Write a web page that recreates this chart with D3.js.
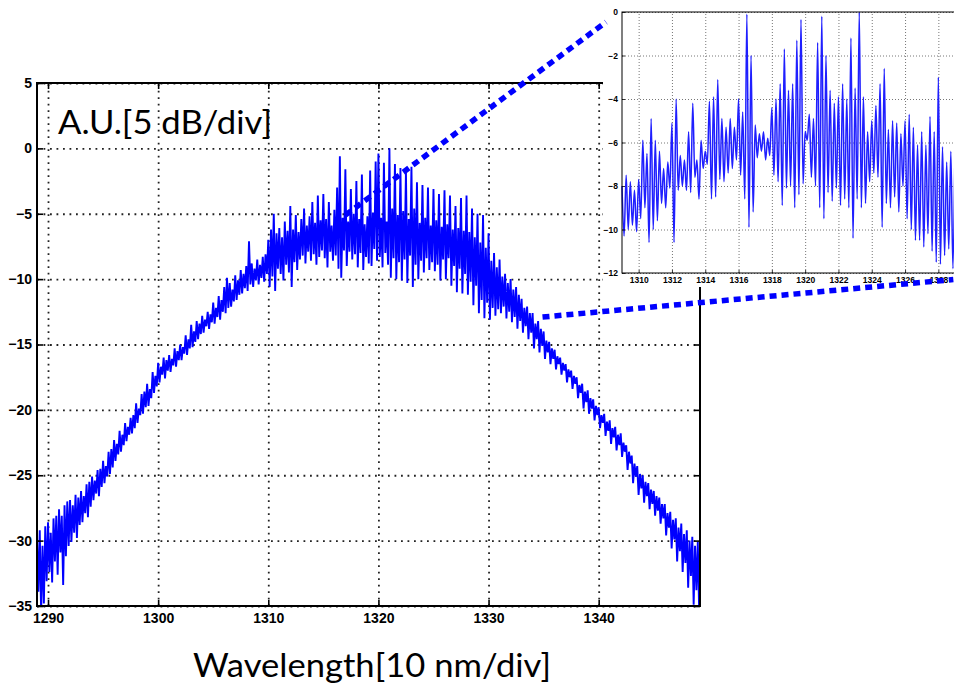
<!DOCTYPE html>
<html>
<head>
<meta charset="utf-8">
<script src="https://cdn.jsdelivr.net/npm/d3@7"></script>
<style>
  body { margin: 0; background: #fff; }
  svg { display: block; }
  .lbl text { font-family: "Liberation Sans", Arial, sans-serif; font-weight: bold; fill: #000; }
  .big { font-family: Lato, "Open Sans", sans-serif; fill: #000; }
</style>
</head>
<body>
<svg id="chart" width="954" height="685"></svg>
<script>
// Spectrum, A.U. in dB (main trace every 0.125 nm from 1289 nm, one row per nm)
const MAIN_START = 1289, MAIN_STEP = 0.125;
const MAIN_DB = [
  -29.8, -33.9, -29.2, -35.6, -30.4, -34.8, -28.9, -33.1,
  -28.6, -32.4, -29.4, -33.2, -28.3, -31.6, -28.1, -32.6,
  -27.6, -30.9, -28.1, -33.4, -27.3, -31.2, -27.0, -30.4,
  -26.9, -30.1, -27.3, -29.4, -26.5, -29.8, -26.7, -28.8,
  -26.2, -28.6, -26.6, -27.9, -25.7, -28.2, -25.5, -27.4,
  -25.1, -26.9, -25.4, -26.4, -24.6, -26.6, -24.5, -25.9,
  -23.9, -25.6, -24.3, -25.1, -23.2, -24.9, -23.0, -24.4,
  -22.3, -23.9, -22.6, -23.4, -21.6, -23.2, -21.9, -22.7,
  -21.0, -22.4, -21.3, -21.9, -20.6, -21.8, -20.4, -21.4,
  -19.5, -21.0, -19.9, -20.4, -18.8, -20.3, -18.6, -19.8,
  -18.0, -19.7, -18.4, -19.1, -17.1, -18.7, -17.4, -18.2,
  -16.4, -17.9, -16.7, -17.3, -16.0, -17.6, -16.2, -17.0,
  -15.8, -17.1, -16.1, -16.6, -15.3, -16.7, -15.5, -16.2,
  -15.0, -16.2, -15.2, -15.7, -14.3, -15.8, -14.6, -15.3,
  -13.5, -15.2, -14.0, -14.8, -13.2, -14.6, -13.4, -14.2,
  -12.8, -14.1, -13.1, -13.6, -12.5, -13.8, -12.7, -13.3,
  -11.8, -13.4, -12.2, -12.9, -11.3, -13.1, -11.6, -12.5,
  -10.6, -12.6, -9.9, -12.2, -10.3, -12.1, -10.8, -11.7,
  -9.7, -11.6, -10.1, -11.2, -9.3, -11.1, -9.6, -10.7,
  -9.0, -10.9, -7.1, -10.4, -8.8, -10.6, -9.2, -10.1,
  -8.5, -10.4, -8.9, -9.9, -8.3, -10.2, -8.1, -9.6,
  -7.0, -10.6, -6.2, -9.8, -5.0, -10.9, -6.5, -9.2,
  -6.1, -9.6, -6.8, -10.1, -5.6, -8.9, -6.3, -9.5,
  -4.4, -10.6, -6.2, -8.7, -5.1, -9.3, -6.4, -8.5,
  -5.4, -8.2, -4.6, -8.8, -5.9, -7.9, -5.2, -8.6,
  -4.1, -8.1, -5.7, -8.9, -3.6, -8.3, -5.5, -7.8,
  -3.5, -8.4, -5.4, -9.1, -4.1, -7.9, -5.9, -8.6,
  -4.7, -8.2, -3.0, -9.2, -0.6, -9.9, -5.3, -7.8,
  -1.6, -9.0, -5.6, -7.9, -3.1, -8.5, -5.0, -8.1,
  -2.5, -9.1, -5.4, -8.0, -2.0, -9.3, -5.8, -8.3,
  -5.2, -8.8, -1.7, -9.0, -4.9, -7.7, -1.0, -8.6,
  -0.4, -8.3, -5.3, -9.1, -1.1, -8.0, -5.6, -8.9,
  0.0, -9.9, -4.6, -8.4, -1.2, -10.0, -5.1, -8.7,
  -1.5, -10.1, -4.8, -8.5, -1.8, -10.3, -5.4, -8.2,
  -1.4, -10.6, -4.6, -8.9, -2.6, -10.0, -5.7, -8.6,
  -2.8, -9.5, -5.3, -8.4, -3.0, -9.3, -5.9, -8.7,
  -3.1, -9.4, -5.5, -8.9, -3.5, -10.1, -6.0, -8.5,
  -3.2, -10.0, -5.8, -8.4, -3.6, -10.5, -6.2, -9.0,
  -4.4, -11.0, -6.1, -9.2, -3.8, -11.1, -6.3, -9.6,
  -3.6, -11.2, -6.4, -10.2, -4.6, -12.0, -6.8, -10.5,
  -5.0, -12.6, -7.2, -11.6, -5.1, -13.0, -7.6, -11.8,
  -6.5, -13.1, -8.6, -12.2, -8.0, -12.8, -9.1, -12.3,
  -8.5, -12.6, -9.8, -12.1, -9.6, -13.0, -10.3, -12.5,
  -10.0, -13.3, -10.8, -12.9, -10.6, -13.8, -11.2, -13.2,
  -11.5, -14.1, -12.2, -13.6, -12.1, -14.6, -12.6, -14.1,
  -12.6, -15.3, -13.4, -14.6, -13.2, -15.6, -13.8, -15.1,
  -14.0, -16.1, -14.7, -15.6, -14.8, -16.5, -15.3, -16.1,
  -15.4, -16.9, -15.9, -16.5, -16.0, -17.3, -16.4, -17.0,
  -16.5, -17.9, -16.9, -17.5, -17.0, -18.4, -17.4, -18.0,
  -17.5, -19.1, -18.1, -18.7, -18.0, -19.9, -18.6, -19.4,
  -18.5, -20.3, -19.1, -19.9, -19.2, -20.8, -19.7, -20.4,
  -19.8, -21.4, -20.4, -21.0, -20.3, -22.0, -20.9, -21.6,
  -20.8, -22.6, -21.4, -22.1, -21.3, -23.1, -21.9, -22.7,
  -21.8, -23.6, -22.5, -23.2, -22.7, -24.6, -23.2, -24.1,
  -23.5, -25.6, -24.1, -25.1, -24.3, -26.5, -24.9, -26.0,
  -25.0, -27.1, -25.5, -26.6, -25.6, -27.6, -26.1, -27.2,
  -26.2, -28.1, -26.6, -27.7, -26.7, -28.7, -27.2, -28.3,
  -27.2, -29.6, -27.9, -29.0, -27.8, -30.6, -28.4, -29.9,
  -28.3, -31.6, -29.0, -30.8, -28.7, -32.4, -29.5, -31.7,
  -29.2, -33.6, -30.0, -32.7, -29.7, -34.9, -30.4, -33.8,
  -30.1, -35.5, -30.6
];

// Zoomed trace, every 0.125 nm from 1309 nm
const INSET_START = 1309, INSET_STEP = 0.125;
const INSET_DB = [
  -8.0, -10.3, -7.5, -10.0, -7.8, -9.8, -8.2, -10.1,
  -7.7, -9.5, -5.9, -9.0, -6.5, -10.6, -4.9, -10.0,
  -5.9, -9.6, -6.4, -8.8, -7.2, -9.0, -6.9, -8.1,
  -5.1, -10.6, -4.0, -8.2, -6.6, -8.0, -6.8, -8.2,
  -5.5, -8.3, -4.2, -7.6, -6.8, -8.6, -5.9, -7.2,
  -6.4, -7.0, -4.1, -8.6, -3.9, -8.5, -3.1, -7.7,
  -4.9, -7.8, -5.3, -7.4, -4.9, -7.2, -5.3, -6.8,
  -4.0, -7.5, -4.6, -8.6, -0.1, -9.9, -2.0, -9.2,
  -5.2, -6.7, -5.6, -6.4, -5.5, -6.8, -5.8, -6.6,
  -4.4, -7.5, -4.0, -7.8, -3.3, -8.9, -1.7, -8.1,
  -3.6, -8.0, -3.3, -9.0, -1.3, -8.4, -0.35, -7.9,
  -5.5, -5.9, -4.7, -7.6, -4.9, -8.0, -1.4, -9.0,
  -0.2, -9.5, -2.0, -8.3, -3.6, -8.7, -4.2, -8.1,
  -3.9, -8.9, -3.3, -8.6, -4.0, -9.0, -1.2, -10.4,
  -3.5, -8.6, 0.0, -9.0, -3.9, -8.8, -5.5, -7.8,
  -5.0, -7.4, -4.3, -7.6, -3.3, -9.9, -2.6, -8.8,
  -5.4, -9.0, -5.0, -8.5, -5.1, -9.2, -5.6, -8.0,
  -5.0, -9.5, -4.7, -10.0, -5.3, -10.5, -6.1, -10.5,
  -5.5, -10.8, -6.1, -10.2, -4.8, -11.0, -5.5, -11.5,
  -3.0, -11.6, -6.2, -11.2, -6.9, -10.9, -6.4, -11.8,
  -6.0
];

const MAIN_X_TICKS = [1290, 1300, 1310, 1320, 1330, 1340];
const MAIN_Y_TICKS = [5, 0, -5, -10, -15, -20, -25, -30, -35];
const INSET_X_TICKS = [1310, 1312, 1314, 1316, 1318, 1320, 1322, 1324, 1326, 1328];
const INSET_Y_TICKS = [0, -2, -4, -6, -8, -10, -12];

// connector ends: [nm, dB] on the main plot -> [nm, dB] on the inset
const ZOOM_LINKS = [
  { from: [1317.0, -5.1], to: [1308.04, -0.46] },
  { from: [1334.9, -12.9], to: [1328.9, -12.3] }
];

const Y_LABEL = "A.U.[5 dB/div]";
const X_LABEL = "Wavelength[10 nm/div]";

const svg = d3.select("#chart");
const BLUE = "#0000ff";
const fmt = d3.format("d");

// ── main plot ──
const M = { left: 37, right: 700, top: 83, bottom: 606 };
const x = d3.scaleLinear().domain([1289, 1349.2]).range([M.left, M.right]);
const y = d3.scaleLinear().domain([-35, 5]).range([M.bottom, M.top]);

svg.append("defs").append("clipPath").attr("id", "clipMain")
  .append("rect").attr("x", M.left).attr("y", M.top)
  .attr("width", M.right - M.left).attr("height", M.bottom - M.top);

const mainG = svg.append("g");

function grid(g, axis, dash, color, width) {
  g.call(axis);
  g.select(".domain").remove();
  g.selectAll("line").attr("stroke", color).attr("stroke-width", width).attr("stroke-dasharray", dash);
}
const H = M.bottom - M.top, W = M.right - M.left;
mainG.append("g").attr("transform", `translate(0,${M.bottom})`)
  .call(grid, d3.axisBottom(x).tickValues(MAIN_X_TICKS).tickSize(-H).tickFormat(""), "1.8 4.7", "#222", 1.8);
mainG.append("g").attr("transform", `translate(${M.left},0)`)
  .call(grid, d3.axisLeft(y).tickValues(MAIN_Y_TICKS).tickSize(-W).tickFormat(""), "1.8 4.7", "#222", 1.8);

const mainPts = MAIN_DB.map((v, i) => [MAIN_START + i * MAIN_STEP, v]);
mainG.append("path")
  .datum(mainPts)
  .attr("clip-path", "url(#clipMain)")
  .attr("fill", "none").attr("stroke", BLUE).attr("stroke-width", 1.9)
  .attr("d", d3.line().x(d => x(d[0])).y(d => y(d[1])));

mainG.append("rect").attr("x", M.left).attr("y", M.top).attr("width", W).attr("height", H)
  .attr("fill", "none").attr("stroke", "#000").attr("stroke-width", 2);

function ticksIn(g, axis) {
  g.call(axis);
  g.select(".domain").remove();
  g.selectAll("line").attr("stroke", "#000").attr("stroke-width", 1.6);
}
mainG.append("g").attr("class", "lbl").attr("transform", `translate(0,${M.bottom})`)
  .call(ticksIn, d3.axisBottom(x).tickValues(MAIN_X_TICKS).tickFormat(fmt).tickSizeInner(-6).tickSizeOuter(0).tickPadding(5))
  .selectAll("text").attr("font-size", 14).attr("dy", "0.85em");
mainG.append("g").attr("class", "lbl").attr("transform", `translate(${M.left},0)`)
  .call(ticksIn, d3.axisLeft(y).tickValues(MAIN_Y_TICKS).tickFormat(fmt).tickSizeInner(-6).tickSizeOuter(0).tickPadding(5))
  .selectAll("text").attr("font-size", 14);
mainG.append("g").attr("transform", `translate(${M.right},0)`)
  .call(ticksIn, d3.axisRight(y).tickValues(MAIN_Y_TICKS).tickSizeInner(-6).tickSizeOuter(0).tickFormat(""));
mainG.append("g").attr("transform", `translate(0,${M.top})`)
  .call(ticksIn, d3.axisTop(x).tickValues(MAIN_X_TICKS).tickSizeInner(-6).tickSizeOuter(0).tickFormat(""));

svg.append("text").attr("class", "big")
  .attr("x", 58).attr("y", 134).attr("font-size", 33)
  .attr("textLength", 214).attr("lengthAdjust", "spacingAndGlyphs")
  .text(Y_LABEL);
svg.append("text").attr("class", "big")
  .attr("x", 193).attr("y", 677).attr("font-size", 33)
  .attr("textLength", 358).attr("lengthAdjust", "spacingAndGlyphs")
  .text(X_LABEL);

// ── inset (zoom) ──
const I = { left: 622, right: 955, top: 12, bottom: 273 };
const xi = d3.scaleLinear().domain([1309, 1329]).range([I.left, I.right]);
const yi = d3.scaleLinear().domain([-12, 0]).range([I.bottom, I.top]);
const insetG = svg.append("g");

insetG.append("rect").attr("x", 603).attr("y", 0).attr("width", 360).attr("height", 287).attr("fill", "#fff");

insetG.append("g").attr("transform", `translate(0,${I.bottom})`)
  .call(grid, d3.axisBottom(xi).tickValues(INSET_X_TICKS).tickSize(-(I.bottom - I.top)).tickFormat(""), "1 2", "#666", 0.9);
insetG.append("g").attr("transform", `translate(${I.left},0)`)
  .call(grid, d3.axisLeft(yi).tickValues(INSET_Y_TICKS).tickSize(-(I.right - I.left)).tickFormat(""), "1 2", "#666", 0.9);

const insetPts = INSET_DB.map((v, i) => [INSET_START + i * INSET_STEP, v]);
insetG.append("path")
  .datum(insetPts)
  .attr("fill", "none").attr("stroke", "#1f1fff").attr("stroke-width", 1.5)
  .attr("d", d3.line().curve(d3.curveMonotoneX).x(d => xi(d[0])).y(d => yi(d[1])));

insetG.append("rect").attr("x", I.left).attr("y", I.top)
  .attr("width", I.right - I.left).attr("height", I.bottom - I.top)
  .attr("fill", "none").attr("stroke", "#000").attr("stroke-width", 1);

insetG.append("g").attr("class", "lbl").attr("transform", `translate(0,${I.bottom})`)
  .call(ticksIn, d3.axisBottom(xi).tickValues(INSET_X_TICKS).tickFormat(fmt).tickSizeInner(-3).tickSizeOuter(0).tickPadding(4))
  .selectAll("text").attr("font-size", 8.5);
insetG.append("g").attr("class", "lbl").attr("transform", `translate(${I.left},0)`)
  .call(ticksIn, d3.axisLeft(yi).tickValues(INSET_Y_TICKS).tickFormat(fmt).tickSizeInner(-3).tickSizeOuter(0).tickPadding(4))
  .selectAll("text").attr("font-size", 8.5);
insetG.selectAll(".lbl line").attr("stroke-width", 0.8);

// ── dashed connectors ──
svg.append("g").selectAll("line")
  .data(ZOOM_LINKS).join("line")
  .attr("x1", d => x(d.from[0])).attr("y1", d => y(d.from[1]))
  .attr("x2", d => xi(d.to[0])).attr("y2", d => yi(d.to[1]))
  .attr("stroke", BLUE).attr("stroke-width", 5.5)
  .attr("stroke-dasharray", "7 5");
</script>
</body>
</html>
